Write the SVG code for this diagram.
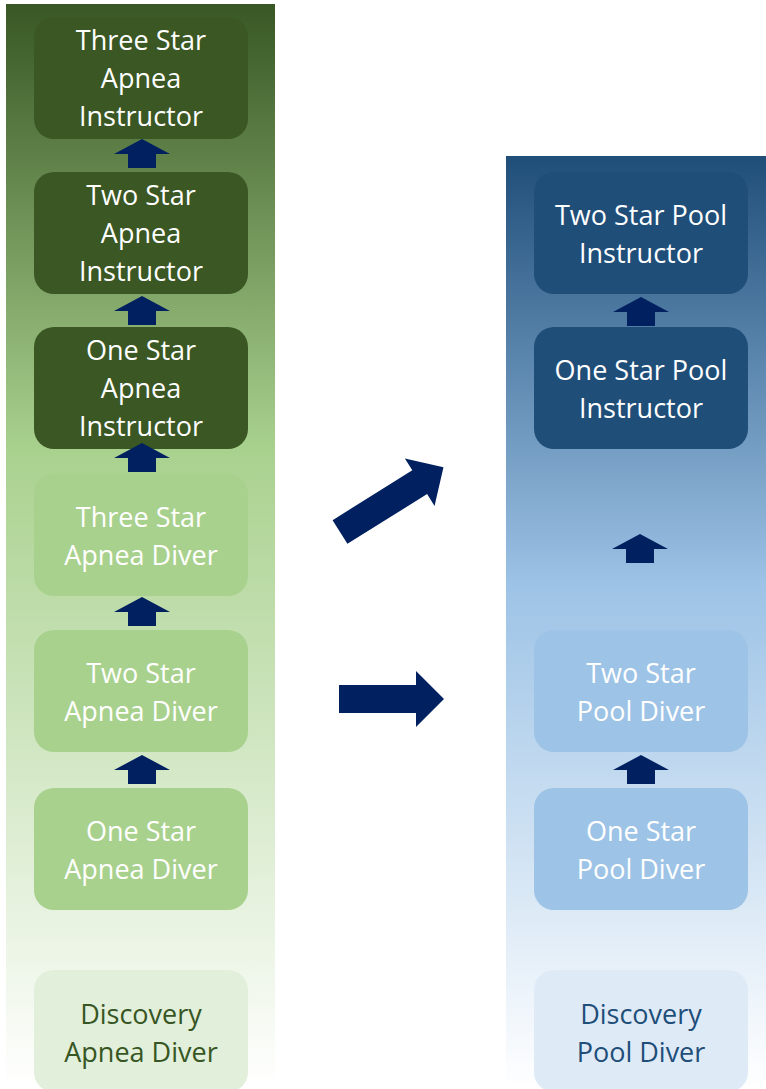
<svg xmlns="http://www.w3.org/2000/svg" width="766" height="1089" viewBox="0 0 766 1089">
  <defs>
    <linearGradient id="gGreen" x1="0" y1="0" x2="0" y2="1">
      <stop offset="0" stop-color="#385724"/>
      <stop offset="0.41" stop-color="#A9D18E"/>
      <stop offset="1" stop-color="#FFFFFF"/>
    </linearGradient>
    <linearGradient id="gBlue" x1="0" y1="0" x2="0" y2="1">
      <stop offset="0" stop-color="#1F4E79"/>
      <stop offset="0.46" stop-color="#9DC3E6"/>
      <stop offset="1" stop-color="#FFFFFF"/>
    </linearGradient>
    <path id="up" d="M0,0 L28,15 L14,15 L14,29 L-14,29 L-14,15 L-28,15 Z"/>
  </defs>
  <style>
    .box { stroke: none; }
    .gd { fill: #3A5724; }
    .gl { fill: #A9D18E; }
    .gx { fill: #E2EFDA; }
    .bd { fill: #1F4E79; }
    .bl { fill: #9DC3E6; }
    .bx { fill: #DEEBF7; }
    text { font-family: "Open Sans", "Noto Sans", "Liberation Sans", sans-serif; font-size: 27px; text-anchor: middle; fill: #FFFFFF; }
    .tg { fill: #375623; }
    .tb { fill: #1F4E79; }
    .arr { fill: #002060; }
  </style>

  <rect x="6" y="4" width="269" height="1085" fill="url(#gGreen)"/>
  <rect x="506" y="156" width="260" height="933" fill="url(#gBlue)"/>

  <g id="n_three_star_apnea_instructor">
    <rect class="box gd" x="34" y="17" width="214" height="122" rx="20"/>
    <text x="141" y="50">Three Star</text>
    <text x="141" y="88">Apnea</text>
    <text x="141" y="126">Instructor</text>
  </g>
  <g id="n_two_star_apnea_instructor">
    <rect class="box gd" x="34" y="172" width="214" height="122" rx="20"/>
    <text x="141" y="205">Two Star</text>
    <text x="141" y="243">Apnea</text>
    <text x="141" y="281">Instructor</text>
  </g>
  <g id="n_one_star_apnea_instructor">
    <rect class="box gd" x="34" y="327" width="214" height="122" rx="20"/>
    <text x="141" y="360">One Star</text>
    <text x="141" y="398">Apnea</text>
    <text x="141" y="436">Instructor</text>
  </g>
  <g id="n_three_star_apnea_diver">
    <rect class="box gl" x="34" y="474" width="214" height="122" rx="20"/>
    <text x="141" y="527">Three Star</text>
    <text x="141" y="565">Apnea Diver</text>
  </g>
  <g id="n_two_star_apnea_diver">
    <rect class="box gl" x="34" y="630" width="214" height="122" rx="20"/>
    <text x="141" y="683">Two Star</text>
    <text x="141" y="721">Apnea Diver</text>
  </g>
  <g id="n_one_star_apnea_diver">
    <rect class="box gl" x="34" y="788" width="214" height="122" rx="20"/>
    <text x="141" y="841">One Star</text>
    <text x="141" y="879">Apnea Diver</text>
  </g>
  <g id="n_discovery_apnea_diver">
    <rect class="box gx" x="34" y="970" width="214" height="122" rx="20"/>
    <text class="tg" x="141" y="1024">Discovery</text>
    <text class="tg" x="141" y="1062">Apnea Diver</text>
  </g>

  <g id="n_two_star_pool_instructor">
    <rect class="box bd" x="534" y="172" width="214" height="122" rx="20"/>
    <text x="641" y="225">Two Star Pool</text>
    <text x="641" y="263">Instructor</text>
  </g>
  <g id="n_one_star_pool_instructor">
    <rect class="box bd" x="534" y="327" width="214" height="122" rx="20"/>
    <text x="641" y="380">One Star Pool</text>
    <text x="641" y="418">Instructor</text>
  </g>
  <g id="n_two_star_pool_diver">
    <rect class="box bl" x="534" y="630" width="214" height="122" rx="20"/>
    <text x="641" y="683">Two Star</text>
    <text x="641" y="721">Pool Diver</text>
  </g>
  <g id="n_one_star_pool_diver">
    <rect class="box bl" x="534" y="788" width="214" height="122" rx="20"/>
    <text x="641" y="841">One Star</text>
    <text x="641" y="879">Pool Diver</text>
  </g>
  <g id="n_discovery_pool_diver">
    <rect class="box bx" x="534" y="970" width="214" height="122" rx="20"/>
    <text class="tb" x="641" y="1024">Discovery</text>
    <text class="tb" x="641" y="1062">Pool Diver</text>
  </g>

  <g id="connectors" class="arr">
    <use href="#up" x="142" y="139"/>
    <use href="#up" x="142" y="296"/>
    <use href="#up" x="142" y="443"/>
    <use href="#up" x="142" y="597"/>
    <use href="#up" x="142" y="755"/>
    <use href="#up" x="641" y="297"/>
    <use href="#up" x="640" y="534"/>
    <use href="#up" x="641" y="755"/>
    <path d="M0,-14 L94,-14 L94,-28 L122,0 L94,28 L94,14 L0,14 Z" transform="translate(340,532) rotate(-32)"/>
    <path d="M339,685 H416 V671 L444,699 L416,727 V713 H339 Z"/>
  </g>
</svg>
